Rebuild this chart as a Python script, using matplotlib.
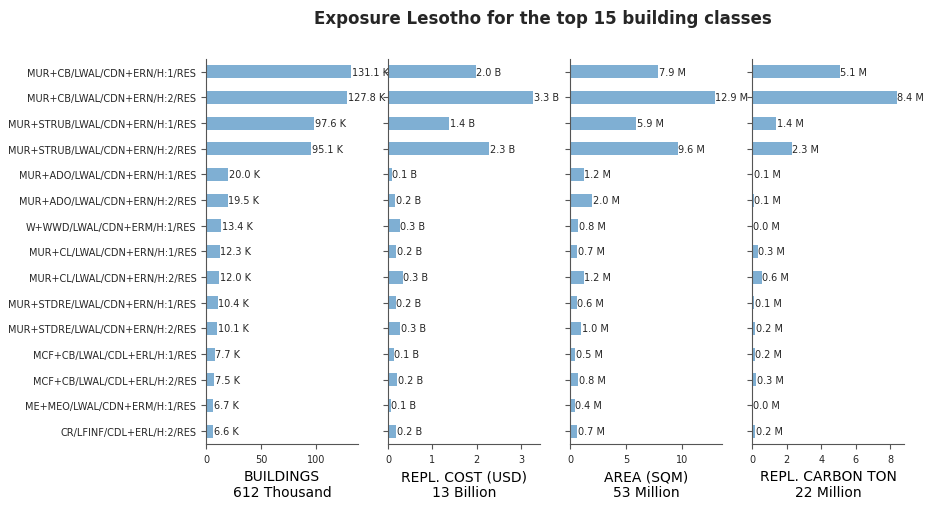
import numpy as np
import matplotlib.pyplot as plt

# building classes, top to bottom
classes = [
    "MUR+CB/LWAL/CDN+ERN/H:1/RES",
    "MUR+CB/LWAL/CDN+ERN/H:2/RES",
    "MUR+STRUB/LWAL/CDN+ERN/H:1/RES",
    "MUR+STRUB/LWAL/CDN+ERN/H:2/RES",
    "MUR+ADO/LWAL/CDN+ERN/H:1/RES",
    "MUR+ADO/LWAL/CDN+ERN/H:2/RES",
    "W+WWD/LWAL/CDN+ERM/H:1/RES",
    "MUR+CL/LWAL/CDN+ERN/H:1/RES",
    "MUR+CL/LWAL/CDN+ERN/H:2/RES",
    "MUR+STDRE/LWAL/CDN+ERN/H:1/RES",
    "MUR+STDRE/LWAL/CDN+ERN/H:2/RES",
    "MCF+CB/LWAL/CDL+ERL/H:1/RES",
    "MCF+CB/LWAL/CDL+ERL/H:2/RES",
    "ME+MEO/LWAL/CDN+ERM/H:1/RES",
    "CR/LFINF/CDL+ERL/H:2/RES",
]

# values per panel (thousands, billions, millions, millions)
buildings = [131.1, 127.8, 97.6, 95.1, 20.0, 19.5, 13.4, 12.3, 12.0, 10.4, 10.1, 7.7, 7.5, 6.7, 6.6]
repl_cost = [1.97, 3.26, 1.37, 2.27, 0.08, 0.16, 0.26, 0.19, 0.33, 0.17, 0.28, 0.13, 0.21, 0.06, 0.19]
area = [7.86, 12.93, 5.88, 9.62, 1.23, 1.97, 0.75, 0.66, 1.22, 0.60, 1.02, 0.45, 0.75, 0.41, 0.66]
carbon = [5.07, 8.37, 1.38, 2.29, 0.06, 0.09, 0.02, 0.32, 0.55, 0.14, 0.20, 0.16, 0.26, 0.01, 0.20]

panels = [
    (buildings, "K", "BUILDINGS\n612 Thousand"),
    (repl_cost, "B", "REPL. COST (USD)\n13 Billion"),
    (area, "M", "AREA (SQM)\n53 Million"),
    (carbon, "M", "REPL. CARBON TON\n22 Million"),
]

bar_color = "#7fafd3"
dark = "#262626"
spine_c = "#555555"

fig, axes = plt.subplots(1, 4, figsize=(9.34, 5.10), dpi=100, sharey=True)
plt.subplots_adjust(left=0.2206, right=0.9679, bottom=0.1275, top=0.8824, wspace=0.197)

y = np.arange(len(classes))
for ax, (vals, unit, label) in zip(axes, panels):
    bars = ax.barh(y, vals, height=0.5, color=bar_color)
    ax.bar_label(bars, labels=[f"{v:.1f} {unit}" for v in vals], padding=0.5,
                 fontsize=7, color=dark)
    ax.set_xlim(0, max(vals) * 1.05)
    ax.set_ylim(len(classes) - 0.5, -0.5)
    ax.set_xlabel(label, fontsize=10, color="black")
    for s in ["top", "right"]:
        ax.spines[s].set_visible(False)
    for s in ["left", "bottom"]:
        ax.spines[s].set_color(spine_c)
    ax.tick_params(axis="both", labelsize=7, colors=spine_c, labelcolor=dark)

axes[0].set_yticks(y)
axes[0].set_yticklabels(classes)
axes[0].set_xticks([0, 50, 100])
axes[1].set_xticks([0, 1, 2, 3])
axes[2].set_xticks([0, 5, 10])
axes[3].set_xticks([0, 2, 4, 6, 8])

fig.suptitle("Exposure Lesotho for the top 15 building classes", x=0.581, y=0.98,
             fontsize=12, fontweight="bold", color=dark)

fig.savefig("out.png", dpi=100)
